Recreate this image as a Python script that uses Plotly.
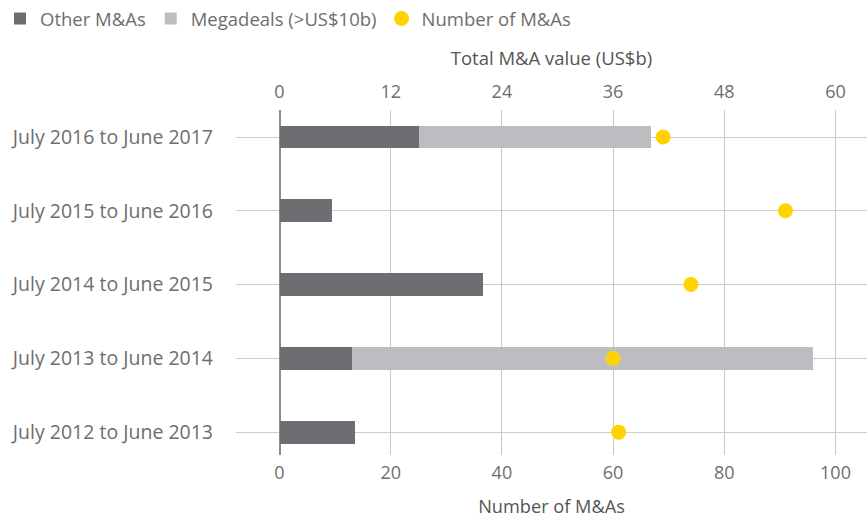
import plotly.graph_objects as go

# Fiscal periods, listed bottom to top
periods = [
    "July 2012 to June 2013",
    "July 2013 to June 2014",
    "July 2014 to June 2015",
    "July 2015 to June 2016",
    "July 2016 to June 2017",
]
other_value = [8.1, 7.8, 22.0, 5.7, 15.0]      # US$b
mega_value = [0, 49.8, 0, 0, 25.1]           # US$b
deal_count = [61, 60, 74, 91, 69]

value_ticks = [0, 12, 24, 36, 48, 60]
count_ticks = [0, 20, 40, 60, 80, 100]

FONT = "Open Sans"
TXT = "#6e6e6e"

fig = go.Figure()
fig.add_trace(go.Bar(
    y=periods, x=other_value, orientation="h", name="Other M&As",
    marker=dict(color="#6d6e71", line=dict(width=0)), xaxis="x", width=0.31,
))
fig.add_trace(go.Bar(
    y=periods, x=mega_value, orientation="h", name="Megadeals (>US$10b)",
    marker=dict(color="#bcbdc0", line=dict(width=0)), xaxis="x", width=0.31,
))
fig.add_trace(go.Scatter(
    y=periods, x=deal_count, mode="markers", name="Number of M&As",
    marker=dict(color="#ffd200", size=15, line=dict(width=0)), xaxis="x2",
))

vpx = 556 / 60.0
vmin = (236 - 279.5) / vpx
vmax = (867 - 279.5) / vpx

fig.update_layout(
    width=867, height=518,
    margin=dict(l=236, r=0, t=110, b=63),
    paper_bgcolor="white", plot_bgcolor="white",
    barmode="stack",
    font=dict(family=FONT, size=18, color=TXT),
    showlegend=True,
    legend=dict(
        orientation="h", x=0.0, y=1.0, xref="container", yref="container",
        xanchor="left", yanchor="top",
        font=dict(family=FONT, size=18.5, color=TXT),
        traceorder="normal",
    ),
    xaxis=dict(
        side="top", range=[vmin, vmax],
        tickvals=value_ticks, ticktext=[str(v) for v in value_ticks],
        showgrid=True, gridcolor="#c8c8c8", gridwidth=1,
        zeroline=True, zerolinecolor="#8c8c8c", zerolinewidth=2,
        showline=False, ticks="", ticklabelstandoff=7,
        tickfont=dict(family=FONT, size=18, color=TXT),
        title=dict(text="Total M&A value (US$b)", standoff=8,
                   font=dict(family=FONT, size=18.5, color="#555555")),
    ),
    xaxis2=dict(
        side="bottom", overlaying="x", anchor="y",
        range=[vmin * 100 / 60, vmax * 100 / 60],
        tickvals=count_ticks, ticktext=[str(v) for v in count_ticks],
        showgrid=False, zeroline=False, showline=False, ticks="",
        ticklabelstandoff=5,
        tickfont=dict(family=FONT, size=18, color=TXT),
        title=dict(text="Number of M&As", standoff=21,
                   font=dict(family=FONT, size=18.2, color="#555555")),
    ),
    yaxis=dict(
        type="category", categoryorder="array", categoryarray=periods,
        range=[-0.31, 4.366],
        showgrid=True, gridcolor="#cccccc", gridwidth=1,
        zeroline=False, showline=False, ticks="",
        ticklabelstandoff=22,
        tickfont=dict(family=FONT, size=19.5, color=TXT),
    ),
)

fig.write_html("out.html")
